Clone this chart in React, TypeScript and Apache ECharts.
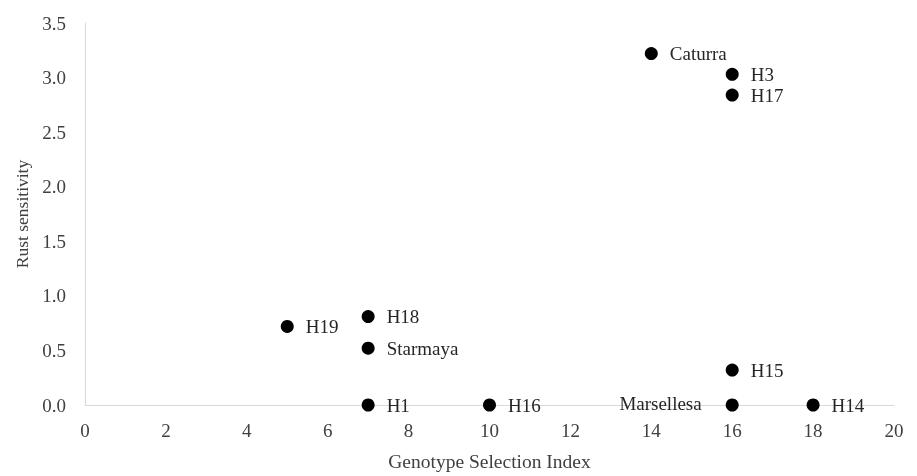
import React, { useEffect, useRef } from "react";
import * as echarts from "echarts";

const names = ["Caturra", "H3", "H17", "H19", "H18", "Starmaya", "H15", "H1", "H16", "Marsellesa", "H14"];
const xValues = [14, 16, 16, 5, 7, 7, 16, 7, 10, 16, 18];
const yValues = [3.22, 3.03, 2.84, 0.72, 0.81, 0.52, 0.32, 0, 0, 0, 0];
const leftLabeled = ["Marsellesa"];

export default function App() {
  const ref = useRef<HTMLDivElement>(null);
  useEffect(() => {
    if (!ref.current) return;
    const chart = echarts.init(ref.current, null, { renderer: "svg" });
    const font = "'Liberation Serif', 'Times New Roman', serif";
    const data = names.map((n, i) => ({
      name: n,
      value: [xValues[i], yValues[i]],
      label: leftLabeled.includes(n)
        ? { position: "left", distance: 24, offset: [0, -2] }
        : { position: "right", distance: 12 },
    }));
    chart.setOption({
      animation: false,
      grid: { left: 85, right: 23, top: 23, bottom: 66, containLabel: false },
      xAxis: {
        type: "value",
        min: 0,
        max: 20,
        interval: 2,
        name: "Genotype Selection Index",
        nameLocation: "middle",
        nameGap: 46,
        nameTextStyle: { fontFamily: font, fontSize: 19.5, color: "#404040" },
        axisLine: { show: true, lineStyle: { color: "#d9d9d9", width: 1 } },
        axisTick: { show: false },
        splitLine: { show: false },
        axisLabel: { fontFamily: font, fontSize: 19, color: "#404040", margin: 16 },
      },
      yAxis: {
        type: "value",
        min: 0,
        max: 3.5,
        interval: 0.5,
        name: "Rust sensitivity",
        nameLocation: "middle",
        nameGap: 54,
        nameTextStyle: { fontFamily: font, fontSize: 17.5, color: "#404040" },
        axisLine: { show: true, lineStyle: { color: "#d9d9d9", width: 1 } },
        axisTick: { show: false },
        splitLine: { show: false },
        axisLabel: {
          fontFamily: font,
          fontSize: 19,
          color: "#404040",
          margin: 19,
          formatter: (v: number) => v.toFixed(1),
        },
      },
      series: [
        {
          type: "scatter",
          symbol: "circle",
          symbolSize: 13,
          itemStyle: { color: "#000000", opacity: 1 },
          label: {
            show: true,
            formatter: "{b}",
            fontFamily: font,
            fontSize: 19,
            color: "#262626",
          },
          data,
        },
      ],
    });
    return () => chart.dispose();
  }, []);
  return (
    <div
      ref={ref}
      style={{ position: "fixed", left: 0, top: 0, width: 917, height: 476 }}
    />
  );
}
